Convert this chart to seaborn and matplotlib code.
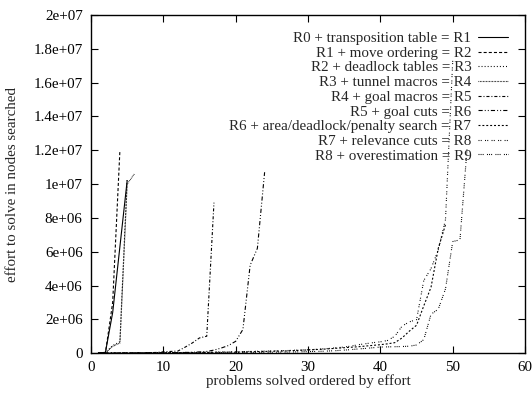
import numpy as np
import pandas as pd
import matplotlib
matplotlib.use("Agg")
import matplotlib.pyplot as plt
from matplotlib.ticker import FuncFormatter, MultipleLocator
import seaborn as sns

# effort values in millions of nodes, problem index starts at 1
labels = [
    "R0 + transposition table = R1",
    "R1 + move ordering = R2",
    "R2 + deadlock tables = R3",
    "R3 + tunnel macros = R4",
    "R4 + goal macros = R5",
    "R5 + goal cuts = R6",
    "R6 + area/deadlock/penalty search = R7",
    "R7 + relevance cuts = R8",
    "R8 + overestimation = R9",
]

r1 = [0.0, 0.05, 2.4, 6.3, 10.2]
r2 = [0.0, 0.02, 3.0, 12.0]
r3 = [0.0, 0.03, 0.45, 0.67, 10.3]
r4 = [0.0, 0.02, 0.4, 0.6, 10.0, 10.6]
r5 = [0.0, 0.0, 0.01, 0.01, 0.01, 0.02, 0.02, 0.03, 0.04, 0.08,
      0.1, 0.12, 0.35, 0.6, 0.9, 1.0, 8.9]
r6 = [0.0, 0.0, 0.0, 0.01, 0.01, 0.01, 0.01, 0.02, 0.02, 0.02,
      0.03, 0.03, 0.04, 0.05, 0.07, 0.1, 0.18, 0.3, 0.45, 0.7,
      1.4, 5.2, 6.2, 10.7]
r7 = [0.0, 0.0, 0.0, 0.01, 0.01, 0.01, 0.01, 0.02, 0.02, 0.02,
      0.02, 0.03, 0.03, 0.03, 0.04, 0.04, 0.05, 0.05, 0.06, 0.06,
      0.07, 0.08, 0.09, 0.1, 0.11, 0.12, 0.13, 0.15, 0.17, 0.19,
      0.21, 0.23, 0.26, 0.29, 0.32, 0.35, 0.38, 0.42, 0.46, 0.5,
      0.55, 0.62, 0.9, 1.3, 1.65, 2.8, 3.9, 6.2, 7.6]
r8 = [0.0, 0.0, 0.01, 0.01, 0.01, 0.01, 0.02, 0.02, 0.02, 0.03,
      0.03, 0.03, 0.04, 0.04, 0.05, 0.05, 0.06, 0.07, 0.07, 0.08,
      0.09, 0.1, 0.11, 0.12, 0.13, 0.14, 0.15, 0.17, 0.18, 0.2,
      0.22, 0.25, 0.28, 0.32, 0.36, 0.42, 0.5, 0.56, 0.62, 0.67,
      0.75, 1.0, 1.6, 1.85, 1.98, 4.3, 5.0, 6.1, 7.9, 17.3]
r9 = [0.0, 0.0, 0.0, 0.0, 0.0, 0.01, 0.01, 0.01, 0.01, 0.01,
      0.01, 0.01, 0.02, 0.02, 0.02, 0.02, 0.03, 0.03, 0.03, 0.03,
      0.04, 0.04, 0.04, 0.05, 0.05, 0.06, 0.06, 0.07, 0.08, 0.09,
      0.1, 0.11, 0.13, 0.15, 0.18, 0.21, 0.25, 0.28, 0.32, 0.36,
      0.37, 0.38, 0.39, 0.41, 0.48, 0.8, 2.3, 2.6, 3.8, 6.6,
      6.7, 12.2]
series = [r1, r2, r3, r4, r5, r6, r7, r8, r9]

# gnuplot-like dash patterns (points)
styles = [
    "-",
    (0, (2.2, 1.5)),
    (0, (0.7, 1.5)),
    (0, (0.5, 0.6)),
    (0, (2.2, 1.4, 0.7, 1.4)),
    (0, (3.0, 1.5, 0.7, 1.5, 0.7, 1.5)),
    (0, (1.4, 1.4)),
    (0, (0.7, 0.9, 0.7, 2.4)),
    (0, (0.7, 0.8, 0.7, 0.8, 0.7, 2.4)),
]

fs = 10.8

sns.set_theme(style="ticks")
plt.rcParams["font.family"] = ["Liberation Serif", "DejaVu Serif"]
plt.rcParams["lines.scale_dashes"] = False

fig = plt.figure(figsize=(5.32, 3.95), dpi=100)
ax = fig.add_axes([0.171, 0.106, 0.816, 0.856])

for lab, vals, ls in zip(labels, series, styles):
    d = pd.DataFrame({"x": np.arange(1, len(vals) + 1),
                      "y": np.array(vals) * 1e6})
    sns.lineplot(data=d, x="x", y="y", ax=ax, color="black",
                 linewidth=0.8, linestyle=ls, label=lab)

ax.set_xlim(0, 60)
ax.set_ylim(0, 2e7)
ax.xaxis.set_major_locator(MultipleLocator(10))
ax.yaxis.set_major_locator(MultipleLocator(2e6))
ax.yaxis.set_major_formatter(FuncFormatter(lambda v, p: f"{v:g}"))
ax.tick_params(direction="in", length=5, width=0.8, top=True, right=True,
               labelsize=fs, colors="black", pad=6)
for s in ax.spines.values():
    s.set_linewidth(1.0)
    s.set_color("black")

ax.set_xlabel("problems solved ordered by effort", fontsize=fs, labelpad=0)
ax.set_ylabel("effort to solve in nodes searched", fontsize=fs, labelpad=10)

ax.legend(loc="upper right", bbox_to_anchor=(0.985, 0.982), frameon=False,
          markerfirst=False, fontsize=fs, handlelength=2.0,
          handletextpad=0.45, labelspacing=0.08, borderpad=0.2)

fig.savefig("out.png", dpi=100)
